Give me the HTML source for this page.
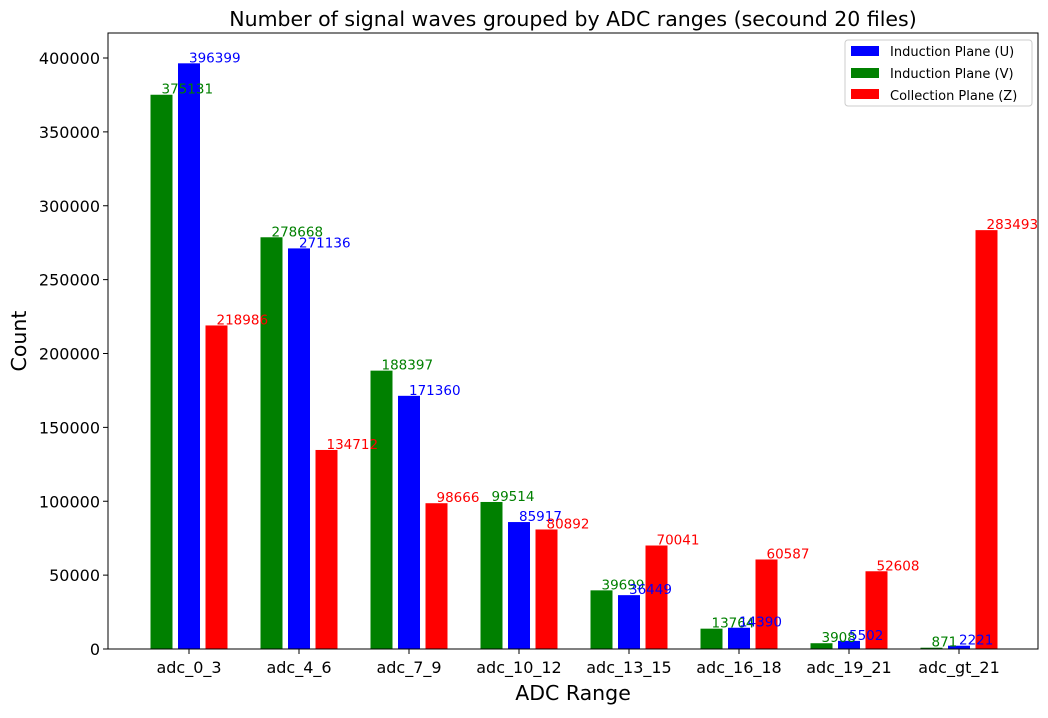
<!DOCTYPE html>
<html><head><meta charset="utf-8"><style>
body{margin:0;background:#fff;width:1048px;height:713px;overflow:hidden}
svg text{font-family:"DejaVu Sans","Liberation Sans",sans-serif}
</style></head><body>
<svg id="chart" width="1048" height="713" xmlns="http://www.w3.org/2000/svg">
<text x="573" y="26" font-size="20.5" text-anchor="middle">Number of signal waves grouped by ADC ranges (secound 20 files)</text>
<g id="grid"></g>
<g id="bars"></g>
<g id="labels"></g>
<rect x="108" y="33" width="930" height="616" fill="none" stroke="#000" stroke-width="1"/>
<text x="573" y="700" font-size="20.5" text-anchor="middle">ADC Range</text>
<text transform="translate(26,341) rotate(-90)" font-size="20.5" text-anchor="middle">Count</text>
<g>
<rect x="845" y="40" width="187" height="66" fill="#fff" stroke="#ccc" rx="3"/>
<rect x="851" y="46" width="28" height="10" fill="#0000ff"/>
<text x="890" y="56" font-size="13">Induction Plane (U)</text>
<rect x="851" y="68" width="28" height="10" fill="#008000"/>
<text x="890" y="78" font-size="13">Induction Plane (V)</text>
<rect x="851" y="89" width="28" height="10" fill="#ff0000"/>
<text x="890" y="100" font-size="13">Collection Plane (Z)</text>
</g>
</svg>
<script>
const categories=["adc_0_3","adc_4_6","adc_7_9","adc_10_12","adc_13_15","adc_16_18","adc_19_21","adc_gt_21"];
const valuesV=[375131,278668,188397,99514,39699,13764,3908,871];
const valuesU=[396399,271136,171360,85917,36449,14390,5502,2221];
const valuesZ=[218986,134712,98666,80892,70041,60587,52608,283493];
const yTicks=[0,50000,100000,150000,200000,250000,300000,350000,400000];
const NS="http://www.w3.org/2000/svg";
const bars=document.getElementById('bars');
const labels=document.getElementById('labels');
const grid=document.getElementById('grid');
function xPos(i){return 189+110*i;}
function yPos(v){return 649-v*591/400000;}
function mk(tag,attrs,parent){const e=document.createElementNS(NS,tag);for(const k in attrs)e.setAttribute(k,attrs[k]);parent.appendChild(e);return e;}
yTicks.forEach(t=>{
  const y=yPos(t);
  const l=mk('line',{x1:103,x2:108,y1:y,y2:y,stroke:'#000'},grid);
  
  
  const tx=mk('text',{x:100,y:y+6,'font-size':16,'text-anchor':'end'},grid);
  tx.textContent=String(t);
  
  
});
const series=[{vals:valuesV,color:'#008000',off:-27.5,n:'v'},{vals:valuesU,color:'#0000ff',off:0,n:'u'},{vals:valuesZ,color:'#ff0000',off:27.5,n:'z'}];
categories.forEach((c,i)=>{
  const cx=xPos(i);
  const tk=mk('line',{x1:cx,x2:cx,y1:649,y2:654,stroke:'#000'},grid);
  
  
  const tl=mk('text',{x:cx,y:673,'font-size':16,'text-anchor':'middle'},grid);
  tl.textContent=c;
  
  
  series.forEach(s=>{
    const v=s.vals[i];const bx=cx+s.off;const y=yPos(v);
    const r=mk('rect',{x:bx-11,y:y,width:22,height:649-y,fill:s.color},bars);
    
    
    const t=mk('text',{x:bx,y:y-1,'font-size':13.5,fill:s.color},labels);
    t.textContent=String(v);
    
    
  });
});
</script>
</body></html>
